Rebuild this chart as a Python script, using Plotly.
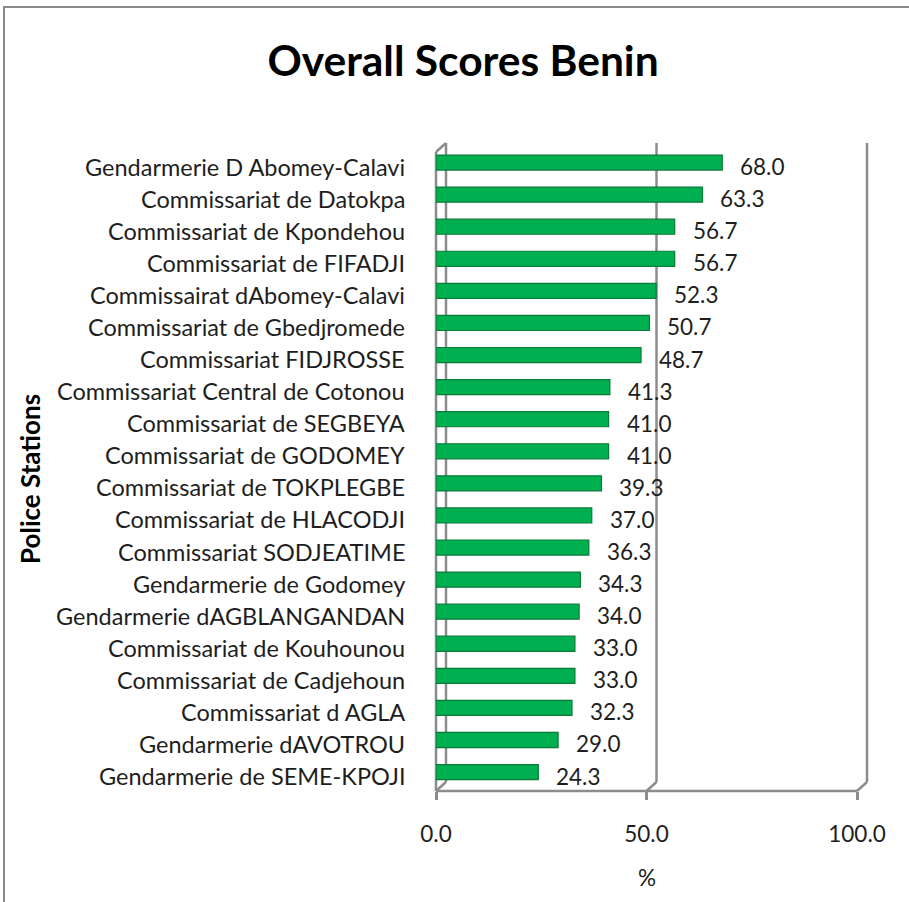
import plotly.graph_objects as go

title_text = "Overall Scores Benin"
stations = [
    "Gendarmerie D Abomey-Calavi",
    "Commissariat de Datokpa",
    "Commissariat de Kpondehou",
    "Commissariat de FIFADJI",
    "Commissairat dAbomey-Calavi",
    "Commissariat de Gbedjromede",
    "Commissariat FIDJROSSE",
    "Commissariat Central de Cotonou",
    "Commissariat de SEGBEYA",
    "Commissariat de GODOMEY",
    "Commissariat de TOKPLEGBE",
    "Commissariat de HLACODJI",
    "Commissariat SODJEATIME",
    "Gendarmerie de Godomey",
    "Gendarmerie dAGBLANGANDAN",
    "Commissariat de Kouhounou",
    "Commissariat de Cadjehoun",
    "Commissariat d AGLA",
    "Gendarmerie dAVOTROU",
    "Gendarmerie de SEME-KPOJI",
]
scores = [68.0, 63.3, 56.7, 56.7, 52.3, 50.7, 48.7, 41.3, 41.0, 41.0,
          39.3, 37.0, 36.3, 34.3, 34.0, 33.0, 33.0, 32.3, 29.0, 24.3]
x_range = [0, 100]
x_ticks = [0, 50, 100]
x_tick_labels = ["0.0", "50.0", "100.0"]
x_title = "%"
y_title = "Police Stations"

FONT = "Lato, 'Open Sans', sans-serif"
GRID = "#8c8c8c"
TXT = "#1e1e1e"

fig = go.Figure()
fig.add_trace(go.Bar(
    x=scores, y=stations, orientation="h",
    marker=dict(color="#00B050", line=dict(color="#0b7a3b", width=1.2)),
    width=0.47, hoverinfo="x+y",
))

annotations = []
for s, v in zip(stations, scores):
    annotations.append(dict(
        x=v, y=s, xref="x", yref="y", text=f"{v:.1f}", showarrow=False,
        xanchor="left", yanchor="middle", xshift=16, yshift=-4,
        font=dict(family=FONT, size=22.5, color=TXT)))
    annotations.append(dict(
        x=0, y=s, xref="paper", yref="y", text=s, showarrow=False,
        xanchor="right", yanchor="middle", xshift=-29, yshift=-4,
        font=dict(family=FONT, size=23.5, color=TXT)))

annotations.append(dict(
    x=0.5, y=0, xref="paper", yref="paper", text=x_title, showarrow=False,
    xanchor="center", yanchor="middle", yshift=-86,
    font=dict(family=FONT, size=22.5, color=TXT)))
annotations.append(dict(
    x=0, y=0.5, xref="paper", yref="paper", text=f"<b>{y_title}</b>",
    showarrow=False, textangle=-90, xanchor="center", yanchor="middle",
    xshift=-406, yshift=-12,
    font=dict(family=FONT, size=26, color="#000000")))

shapes = []
# chart border (left & top visible)
shapes.append(dict(type="rect", xref="paper", yref="paper", layer="below",
                   xsizemode="pixel", xanchor=0, x0=-432, x1=520,
                   ysizemode="pixel", yanchor=0, y0=-300, y1=784,
                   line=dict(color="#8a8a8a", width=2)))
# front floor line
shapes.append(dict(type="line", xref="paper", yref="paper", layer="below",
                   x0=0, x1=1, y0=0, y1=0,
                   line=dict(color=GRID, width=2.5)))
for t in x_ticks:
    frac = (t - x_range[0]) / (x_range[1] - x_range[0])
    # back wall vertical line (3-D depth offset)
    shapes.append(dict(type="line", xref="paper", yref="paper", layer="below",
                       xsizemode="pixel", xanchor=frac, x0=10, x1=10,
                       ysizemode="pixel", yanchor=0, y0=9, y1=648,
                       line=dict(color=GRID, width=2.5)))
    # diagonal to the front floor
    shapes.append(dict(type="line", xref="paper", yref="paper", layer="below",
                       xsizemode="pixel", xanchor=frac, x0=0, x1=10,
                       ysizemode="pixel", yanchor=0, y0=0, y1=9,
                       line=dict(color=GRID, width=2.5)))
# left wall front edge and top diagonal
shapes.append(dict(type="line", xref="paper", yref="paper", layer="below",
                   xsizemode="pixel", xanchor=0, x0=0, x1=0,
                   ysizemode="pixel", yanchor=0, y0=0, y1=639,
                   line=dict(color=GRID, width=2.5)))
shapes.append(dict(type="line", xref="paper", yref="paper", layer="below",
                   xsizemode="pixel", xanchor=0, x0=0, x1=10,
                   ysizemode="pixel", yanchor=0, y0=639, y1=648,
                   line=dict(color=GRID, width=2.5)))

fig.update_layout(
    width=909, height=902,
    margin=dict(l=436, r=52, t=143, b=111),
    paper_bgcolor="white", plot_bgcolor="white",
    showlegend=False,
    title=dict(text=f"<b>{title_text}</b>", x=0.5094, xanchor="center",
               y=0.932, yanchor="middle",
               font=dict(family=FONT, size=42.5, color="#000000")),
    xaxis=dict(range=x_range, tickvals=x_ticks, ticktext=x_tick_labels,
               showgrid=False, zeroline=False, showline=False,
               ticks="outside", ticklen=8, tickwidth=2.5, tickcolor=GRID,
               ticklabelstandoff=15,
               tickfont=dict(family=FONT, size=22.5, color=TXT)),
    yaxis=dict(type="category", categoryorder="array", categoryarray=stations,
               range=[19.59, -0.61], showticklabels=False, showgrid=False,
               zeroline=False, showline=False, ticks=""),
    annotations=annotations,
    shapes=shapes,
)

fig.write_html("out.html", config={"displayModeBar": False},
               post_script="document.body.style.margin='0';document.body.style.overflow='hidden';")
